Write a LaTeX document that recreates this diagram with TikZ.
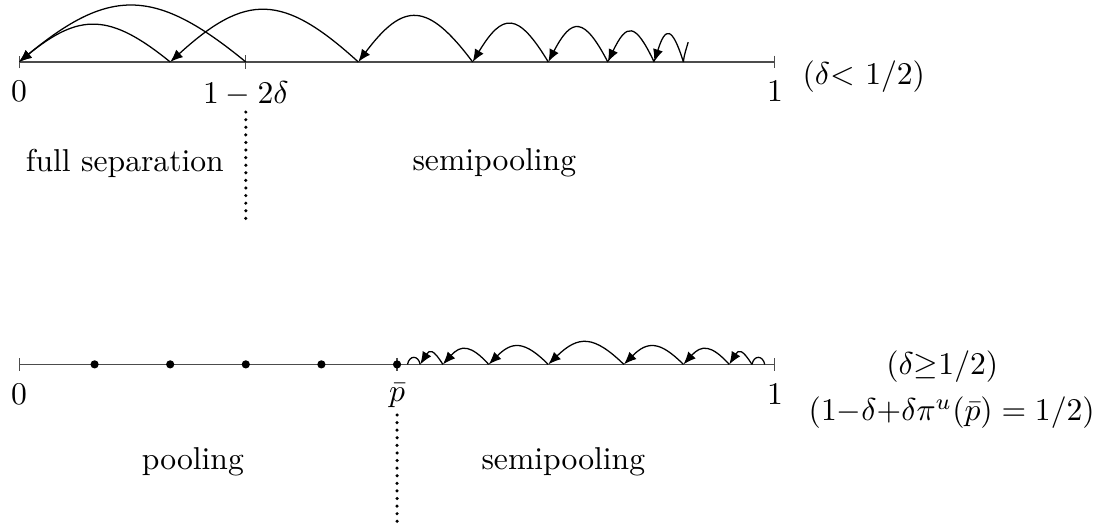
\documentclass[tikz,border=0pt]{standalone}
\usepackage{amsmath,amssymb}
\usetikzlibrary{arrows.meta,positioning}

\begin{document}
\begin{tikzpicture}[
  scale=1.05,
  axis/.style={draw=black!70, {Bar[width=4pt]}-{Bar[width=4pt]}},
  jump/.style={-{Latex[length=4pt,width=3.2pt]}},
  pt/.style={circle, fill, inner sep=0pt, minimum size=2.6pt},
  divider/.style={line width=1.1pt, line cap=round, dash pattern=on 0pt off 2.4pt},
  cond/.style={inner sep=0pt},
  node distance=0.9mm
]
\useasboundingbox (-0.201,-4.92) rectangle (11.524,0.656);

% upper line (delta < 1/2)
\coordinate (o)   at (0,0);
\coordinate (t1)  at (1.6,0);
\coordinate (d)   at (2.4,0);
\coordinate (t2)  at (3.59,0);
\coordinate (t3)  at (4.8,0);
\coordinate (t4)  at (5.6,0);
\coordinate (t5)  at (6.23,0);
\coordinate (t6)  at (6.72,0);
\coordinate (t7)  at (7.03,0);
\coordinate (t8)  at (7.08,0.21);
\coordinate (one) at (8,0);

\draw[axis] (o) -- (one);
\draw[black!70] ([yshift=2pt]d) -- ([yshift=-2pt]d);

\draw[jump] (d)  .. controls +(-0.96,0.79) and +(0.96,0.79) .. (o);
\draw[jump] (t1) .. controls +(-0.64,0.52) and +(0.64,0.52) .. (o);
\draw[jump] (t2) .. controls +(-0.80,0.73) and +(0.80,0.73) .. (t1);
\draw[jump] (t3) .. controls +(-0.48,0.64) and +(0.48,0.64) .. (t2);
\draw[jump] (t4) .. controls +(-0.32,0.53) and +(0.32,0.53) .. (t3);
\draw[jump] (t5) .. controls +(-0.25,0.48) and +(0.25,0.48) .. (t4);
\draw[jump] (t6) .. controls +(-0.20,0.42) and +(0.20,0.42) .. (t5);
\draw[jump] (t7) .. controls +(-0.12,0.38) and +(0.12,0.38) .. (t6);
\draw (t7) to[out=85,in=-105] (t8);

\node[below=of o]   (lo) {$0$};
\node[below=of d]   (ld) {$1-2\delta$};
\node[below=of one] (l1) {$1$};
\node[cond] (cond1) at (8.94,-0.15) {$(\delta{<}\ 1/2)$};

\coordinate (s1) at (2.4,-0.53);
\coordinate (e1) at (2.4,-1.69);
\draw[divider] (s1) -- (e1);

\node (full)  at (1.12,-1.07) {full separation};
\node (semi1) at (5.03,-1.07) {semipooling};

% lower line (delta >= 1/2)
\coordinate (ob)   at (0,-3.2);
\coordinate (pb)   at (4,-3.2);
\coordinate (oneb) at (8,-3.2);
\coordinate (b0) at (4.11,-3.2);
\coordinate (b1) at (4.245,-3.2);
\coordinate (b2) at (4.485,-3.2);
\coordinate (b3) at (4.97,-3.2);
\coordinate (b4) at (5.6,-3.2);
\coordinate (b5) at (6.4,-3.2);
\coordinate (b6) at (7.03,-3.2);
\coordinate (b7) at (7.515,-3.2);
\coordinate (b8) at (7.755,-3.2);
\coordinate (b9) at (7.89,-3.2);

\draw[axis] (ob) -- (oneb);
\draw[black!70] ([yshift=2pt]pb) -- ([yshift=-2pt]pb);

\node[pt] (q1) at (0.8,-3.2) {};
\node[pt] (q2) at (1.6,-3.2) {};
\node[pt] (q3) at (2.4,-3.2) {};
\node[pt] (q4) at (3.2,-3.2) {};
\node[pt] (q5) at (pb) {};

\draw       (b9) .. controls +(-0.02,0.10) and +(0.02,0.10) .. (b8);
\draw[jump] (b8) .. controls +(-0.10,0.16) and +(0.10,0.16) .. (b7);
\draw[jump] (b7) .. controls +(-0.19,0.21) and +(0.19,0.21) .. (b6);
\draw[jump] (b6) .. controls +(-0.25,0.25) and +(0.25,0.25) .. (b5);
\draw[jump] (b5) .. controls +(-0.32,0.31) and +(0.32,0.31) .. (b4);
\draw[jump] (b4) .. controls +(-0.25,0.25) and +(0.25,0.25) .. (b3);
\draw[jump] (b3) .. controls +(-0.19,0.21) and +(0.19,0.21) .. (b2);
\draw[jump] (b2) .. controls +(-0.10,0.16) and +(0.10,0.16) .. (b1);
\draw       (b1) .. controls +(-0.02,0.10) and +(0.02,0.10) .. (b0);

\node[below=of ob]   (lob) {$0$};
\node[below=of pb]   (lpb) {$\bar p$};
\node[below=of oneb] (l1b) {$1$};
\node[cond] (cond2) at (9.77,-3.22) {$(\delta{\geq}1/2)$};
\node[cond] (cond3) at (9.87,-3.71) {$(1{-}\delta{+}\delta\pi^u(\bar p)=1/2)$};

\coordinate (s2) at (4,-3.735);
\coordinate (e2) at (4,-4.87);
\draw[divider] (s2) -- (e2);

\node (pool)  at (1.84,-4.23) {pooling};
\node (semi2) at (5.76,-4.23) {semipooling};

\end{tikzpicture}
\end{document}
